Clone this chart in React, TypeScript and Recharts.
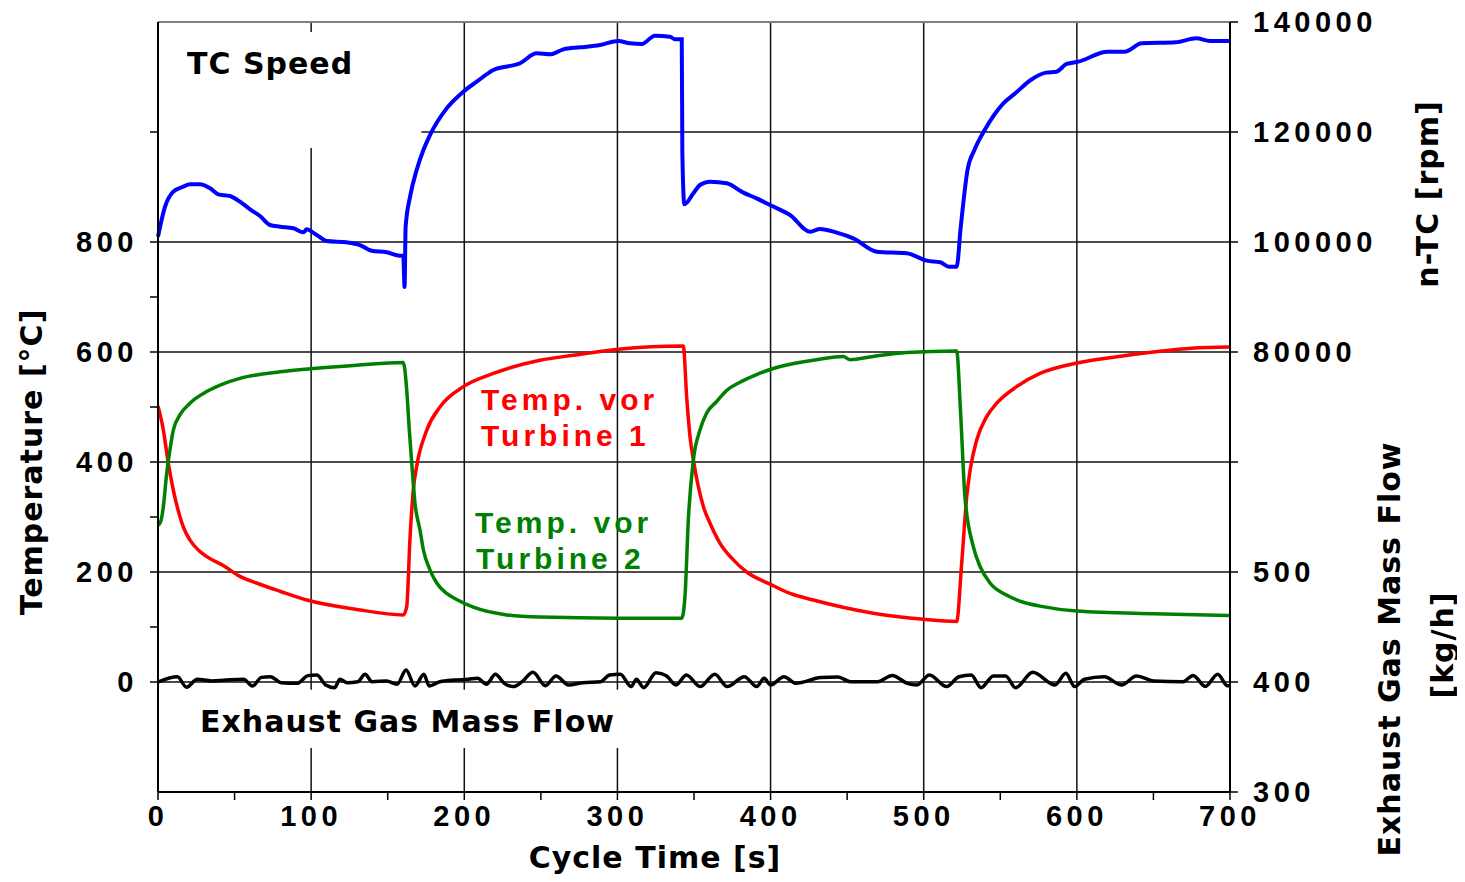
import React from "react";
import { ComposedChart, Line, XAxis, YAxis, CartesianGrid, ReferenceArea, ReferenceLine } from "recharts";

// TC speed [rpm]
const speedTime = [0, 4.6, 10, 16.5, 20.9, 27.4, 34, 39.4, 47, 53.5, 60.1, 66.6, 73.1, 79.7, 88.4, 95, 97, 103.6, 110.2, 123.2, 131.9, 139.5, 149.3, 158, 160.2, 161, 161.7, 164.6, 168.9, 173.3, 177.6, 188.5, 199.4, 208.1, 219, 236.4, 247.3, 256, 264.7, 275.6, 288.6, 300.6, 308.2, 315.8, 324.5, 334.3, 337.6, 342, 342.4, 343.7, 349.6, 353.9, 360.4, 371.4, 382.2, 390.9, 399.6, 412.7, 425.8, 432.3, 443.2, 454, 469.3, 488.9, 502, 510.8, 516.4, 521.5, 524.2, 528.6, 533.1, 539.8, 552, 559.8, 569.9, 579.9, 586.6, 593.3, 601, 620, 631.1, 642.3, 664.5, 678, 686.9, 700];
const speedRpm = [100960, 106420, 109150, 110060, 110490, 110490, 109760, 108670, 108360, 107330, 105940, 104730, 103090, 102790, 102490, 101760, 102300, 101270, 100180, 99940, 99450, 98420, 98120, 97510, 97510, 91820, 102790, 108240, 113090, 116730, 119450, 124300, 127330, 129150, 131270, 132490, 134300, 134120, 135030, 135390, 135820, 136550, 136120, 136000, 137510, 137330, 136850, 136850, 116120, 106850, 108850, 110360, 110970, 110670, 108970, 107940, 106730, 104910, 101880, 102360, 101700, 100670, 98240, 97950, 96610, 96310, 95510, 95510, 102790, 113090, 116730, 120360, 125220, 127040, 129460, 130790, 130970, 132370, 132790, 134600, 134600, 136120, 136300, 137030, 136550, 136550];

// Temp. vor Turbine 1 [°C]
const t1Time = [0, 3.5, 6.7, 10, 14.4, 16.5, 20.9, 26.3, 31.8, 42.6, 53.5, 64.4, 79.7, 97.1, 129.7, 160.2, 162.4, 164.6, 166.7, 168.9, 175.5, 184.1, 199.4, 219, 249.4, 271.2, 300.6, 343, 345.2, 347.4, 349.6, 356.1, 360.4, 367, 375.7, 384.4, 399.6, 412.7, 427.9, 467.1, 499.7, 521.5, 524.8, 528.1, 530.3, 534.6, 541, 547.7, 560.7, 575.9, 600, 625, 650, 675, 700];
const t1Temp = [502, 458, 398, 349, 300, 282, 258, 240, 228, 212, 192, 180, 165, 149, 132, 122, 137, 264, 349, 392, 458, 500, 537, 561, 585, 594, 605, 611, 519, 446, 404, 319, 289, 252, 222, 200, 178, 161, 149, 125, 114, 110, 216, 337, 385, 440, 482, 507, 537, 561, 580, 591, 600, 607, 609];

// Temp. vor Turbine 2 [°C]
const t2Time = [0, 1.8, 3.5, 5.7, 7.8, 10, 14.4, 20.9, 31.8, 42.6, 53.5, 79.7, 101.4, 129.7, 160.2, 162.4, 164.1, 165.7, 167.8, 171.1, 173.3, 177.6, 182, 188.5, 195, 205.9, 227.7, 249.4, 300.6, 342, 344.1, 346.3, 349.6, 353.9, 358.3, 364.8, 371.3, 380, 390.9, 401.8, 430.1, 447.5, 451.9, 467.1, 488.9, 521.5, 524.1, 526.9, 532.4, 536.8, 543.3, 554, 565, 575.9, 600, 650, 700];
const t2Temp = [285, 292, 319, 380, 422, 458, 486, 507, 528, 542, 552, 564, 570, 576, 581, 531, 458, 398, 325, 276, 240, 204, 180, 161, 150, 136, 122, 118, 116, 116, 155, 295, 404, 458, 489, 510, 530, 545, 559, 570, 586, 592, 586, 592, 599, 602, 489, 337, 246, 210, 180, 158, 145, 138, 129, 124, 121];

// Exhaust gas mass flow [kg/h]
const flowTime = [0, 12.7, 18.6, 25.6, 34.9, 44.2, 55.9, 61.7, 67.5, 73.4, 80.4, 90.9, 97.9, 103.7, 109.5, 115.3, 118.8, 123.5, 130.5, 135.2, 139.8, 149.2, 156.1, 162, 167.8, 173.6, 177.1, 184.1, 193.5, 202.8, 208.6, 214.5, 220.3, 226.1, 232, 237.8, 244.8, 253, 259.9, 268.1, 277.4, 289.1, 294.9, 301.9, 308.9, 312.4, 317.1, 325.2, 332.2, 338.1, 345.1, 354, 363.6, 371.7, 382.9, 391, 395.8, 400, 408.7, 416.7, 432.8, 444.1, 452.1, 469.9, 479.5, 489.2, 495.6, 503.7, 514.9, 523, 531, 537.5, 545.5, 553.5, 560, 571.2, 585.7, 592.8, 598.6, 605, 617.9, 629.2, 638.9, 650.1, 669.4, 675.9, 683.9, 692, 698.4, 700];
const flowKgh = [400, 404.8, 395.2, 402.5, 401, 401.8, 402.5, 396.4, 404.2, 404.8, 399.4, 398.8, 405.8, 406.4, 397.3, 394.8, 402.5, 399.4, 400.3, 407, 400.3, 401, 398, 410.9, 396.4, 407, 396.4, 400.3, 401.8, 402.5, 403.4, 398, 407, 398.8, 395.8, 400.3, 408.8, 396.7, 405.5, 397.3, 399.4, 400.3, 406.4, 407, 395.8, 402.5, 394.8, 408.5, 405.5, 397.3, 406.4, 395.8, 407, 395.8, 404.8, 395.8, 403.4, 397.3, 404.8, 398.8, 404, 404.5, 400.3, 400.3, 406, 398.8, 397.3, 406.4, 395.8, 404.8, 406.4, 394.8, 405.5, 405.5, 394.8, 408.9, 397.3, 407.9, 395.8, 402.5, 404.8, 397.3, 405.5, 401, 400.3, 406, 396, 407, 396.5, 397];

const timeTicks = [0, 50, 100, 150, 200, 250, 300, 350, 400, 450, 500, 550, 600, 650, 700];
const tempTicks = [0, 100, 200, 300, 400, 500, 600, 700, 800, 1000];
const rpmTicks = [0, 20000, 40000, 60000, 80000, 100000, 120000, 140000];

const zip = (ts: number[], vs: number[]) => ts.map((t, i) => ({ t, v: vs[i] }));
const speedData = zip(speedTime, speedRpm);
const t1Data = zip(t1Time, t1Temp);
const t2Data = zip(t2Time, t2Temp);
const flowData = zip(flowTime, flowKgh);

const W = 1449;
const H = 874;
const tickFont = { fontFamily: "Liberation Sans, Arial, sans-serif", fontSize: 29, fontWeight: 700, fill: "#000", letterSpacing: 4.5 };
const titleFont = "DejaVu Sans, Verdana, sans-serif";
const noteFont = "Liberation Sans, Arial, sans-serif";

export default function App() {
  return (
    <div style={{ position: "relative", width: W, height: H, marginTop: -8 }}>
      <ComposedChart width={W} height={H} margin={{ top: 22, right: 0, bottom: 0, left: 0 }}>
        <CartesianGrid
          xAxisId="x"
          yAxisId="left"
          horizontalValues={[0, 200, 400, 600, 800, 1000]}
          verticalValues={[100, 200, 300, 400, 500, 600]}
          stroke="#111"
          strokeWidth={1.5}
        />
        <ReferenceArea xAxisId="x" yAxisId="left" x1={0} x2={172} y1={971} y2={1182} fill="#fff" fillOpacity={1} stroke="none" />
        <ReferenceArea xAxisId="x" yAxisId="left" x1={0} x2={350} y1={-120} y2={-14} fill="#fff" fillOpacity={1} stroke="none" />
        <ReferenceLine xAxisId="x" yAxisId="left" y={1200} stroke="#808080" strokeWidth={2} />
        <XAxis
          xAxisId="x"
          type="number"
          dataKey="t"
          domain={[0, 700]}
          ticks={timeTicks}
          interval={0}
          tickFormatter={(v: number) => (v % 100 === 0 ? String(v) : "")}
          height={82}
          tickSize={8}
          tickMargin={5}
          axisLine={{ stroke: "#000", strokeWidth: 2 }}
          tickLine={{ stroke: "#000", strokeWidth: 1.5 }}
          tick={tickFont}
        />
        <YAxis
          yAxisId="left"
          orientation="left"
          type="number"
          domain={[-200, 1200]}
          ticks={tempTicks}
          interval={0}
          tickFormatter={(v: number) => (v % 200 === 0 && v <= 800 ? String(v) : "")}
          width={150}
          tickSize={8}
          tickMargin={12}
          axisLine={{ stroke: "#000", strokeWidth: 2 }}
          tickLine={{ stroke: "#000", strokeWidth: 1.5 }}
          tick={tickFont}
        />
        <YAxis yAxisId="flow" orientation="right" type="number" domain={[300, 1000]} width={0} hide />
        <YAxis
          yAxisId="rpm"
          orientation="right"
          type="number"
          domain={[0, 140000]}
          ticks={rpmTicks}
          interval={0}
          tickFormatter={(v: number) => (v < 60000 ? String(300 + v / 200) : v === 60000 ? "" : String(v))}
          width={227}
          tickSize={8}
          tickMargin={15}
          axisLine={{ stroke: "#000", strokeWidth: 2 }}
          tickLine={{ stroke: "#000", strokeWidth: 1.5 }}
          tick={tickFont}
        />
        <Line data={speedData} xAxisId="x" yAxisId="rpm" dataKey="v" type="monotone" stroke="#0000ff" strokeWidth={4} dot={false} isAnimationActive={false} />
        <Line data={t1Data} xAxisId="x" yAxisId="left" dataKey="v" type="monotone" stroke="#ff0000" strokeWidth={3.5} dot={false} isAnimationActive={false} />
        <Line data={t2Data} xAxisId="x" yAxisId="left" dataKey="v" type="monotone" stroke="#008000" strokeWidth={3.5} dot={false} isAnimationActive={false} />
        <Line data={flowData} xAxisId="x" yAxisId="flow" dataKey="v" type="monotone" stroke="#000" strokeWidth={3.5} dot={false} isAnimationActive={false} />
      </ComposedChart>
      <svg width={W} height={H} style={{ position: "absolute", left: 0, top: 0, overflow: "visible", pointerEvents: "none" }}>
        <g fontFamily={titleFont} fontWeight={700} fontSize={30} letterSpacing={1} fill="#000">
          <text x={179} y={74}>TC Speed</text>
          <text x={192} y={732}>Exhaust Gas Mass Flow</text>
          <text x={647} y={868} textAnchor="middle">Cycle Time [s]</text>
          <text transform="translate(34,462) rotate(-90)" textAnchor="middle">Temperature [°C]</text>
          <text transform="translate(1430,194) rotate(-90)" textAnchor="middle">n-TC [rpm]</text>
          <text transform="translate(1392,649) rotate(-90)" textAnchor="middle">Exhaust Gas Mass Flow</text>
          <text transform="translate(1445,645) rotate(-90)" textAnchor="middle">[kg/h]</text>
        </g>
        <g fontFamily={noteFont} fontWeight={700} fontSize={30} letterSpacing={4}>
          <text x={473} y={410} fill="#ff0000">Temp. vor</text>
          <text x={473} y={446} fill="#ff0000">Turbine 1</text>
          <text x={467} y={533} fill="#008000">Temp. vor</text>
          <text x={468} y={569} fill="#008000">Turbine 2</text>
        </g>
      </svg>
    </div>
  );
}
